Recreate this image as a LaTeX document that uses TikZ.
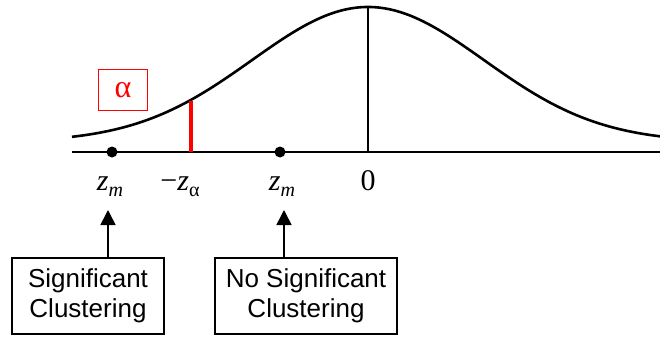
\documentclass[tikz,border=0pt]{standalone}
\usepackage{fontspec}
\setmainfont{Liberation Serif}
\setsansfont{Liberation Sans}
\usetikzlibrary{arrows.meta, positioning}

\begin{document}
\begin{tikzpicture}[
    x=1pt, y=-1pt,
    every node/.style={inner sep=0pt},
    mlabel/.style={font=\fontsize{30}{32}\selectfont, anchor=base},
    outcome/.style={rectangle, draw, line width=1.6pt, align=center, minimum height=76pt, font=\sffamily\fontsize{26}{30}\selectfont},
    dot/.style={circle, fill, minimum size=11pt},
    arrow/.style={-{Triangle[length=15pt,width=15pt]}, line width=1.6pt}
]
\useasboundingbox (0,0) rectangle (660,337);
% curve and axis
\draw[line width=2.6pt] plot[domain=72:660, samples=120, smooth] (\x, {142-135*exp(-0.5*((\x-368)/116)^2)});
\draw[line width=1.8pt] (72,152) -- (660,152);
\draw[line width=1.3pt] (368,152) -- (368,7);
\draw[red, line width=4.5pt] (191,152) -- (191,100.7);
\node (alpha) [draw=red, text=red, line width=1.6pt, minimum width=49pt, minimum height=41pt, font=\fontsize{32}{32}\selectfont] at (123,90) {α};
% points on the axis
\node (dl) [dot] at (112,152) {};
\node (dr) [dot] at (280,152) {};
\node (zl) [mlabel] at (110,190) {\textit{z}\raisebox{-6pt}{\fontsize{20}{20}\selectfont\textit{m}}};
\node (za) [mlabel] at (180,190) {−\textit{z}\raisebox{-6pt}{\fontsize{20}{20}\selectfont α}};
\node (zr) [mlabel] at (282,190) {\textit{z}\raisebox{-6pt}{\fontsize{20}{20}\selectfont\textit{m}}};
\node (zero) [mlabel] at (368,190) {0};
% decisions
\node (sig) [outcome, minimum width=152pt] at (88,296) {Significant\\Clustering};
\node (nosig) [outcome, minimum width=182pt] at (306,296) {No Significant\\Clustering};
\draw[arrow] (sig.north -| 108,0) -- (108,210);
\draw[arrow] (nosig.north -| 284,0) -- (284,210);
\end{tikzpicture}
\end{document}
